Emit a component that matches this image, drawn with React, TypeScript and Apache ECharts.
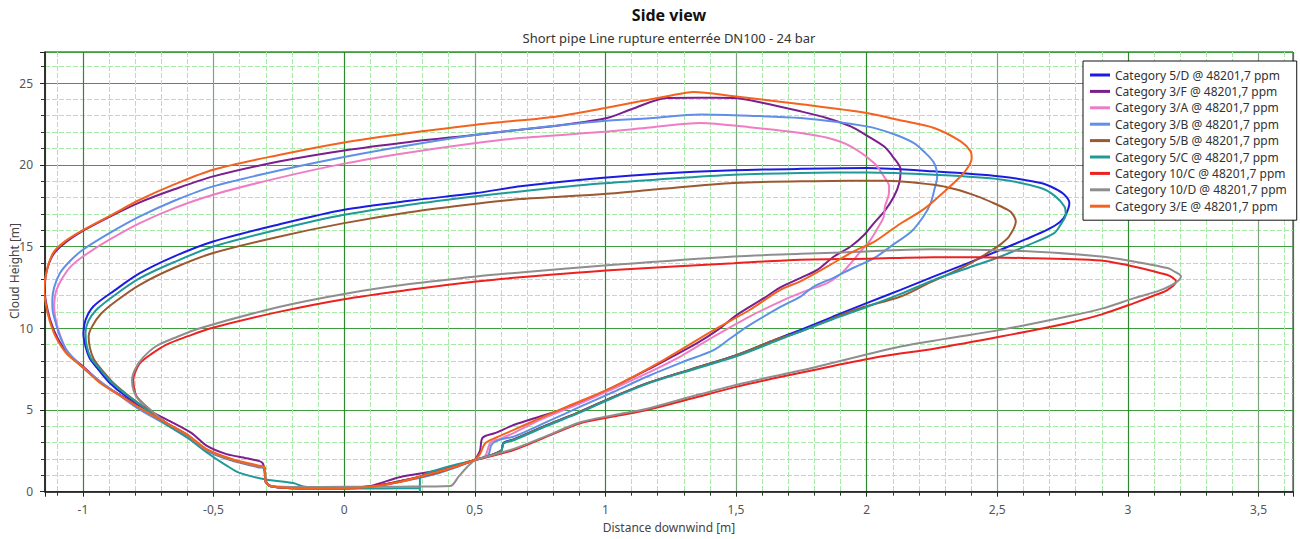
import { useEffect, useRef } from "react";
import * as echarts from "echarts";

const xMin = -1.145;
const xMax = 3.632;
const yMin = 0;
const yMax = 26.9;

const titleText = "Side view";
const subtitleText = "Short pipe Line rupture enterrée DN100 - 24 bar";
const xAxisName = "Distance downwind [m]";
const yAxisName = "Cloud Height [m]";

const seriesNames = [
  "Category 5/D @ 48201,7 ppm",
  "Category 3/F @ 48201,7 ppm",
  "Category 3/A @ 48201,7 ppm",
  "Category 3/B @ 48201,7 ppm",
  "Category 5/B @ 48201,7 ppm",
  "Category 5/C @ 48201,7 ppm",
  "Category 10/C @ 48201,7 ppm",
  "Category 10/D @ 48201,7 ppm",
  "Category 3/E @ 48201,7 ppm",
];

const seriesColors = [
  "#1c1ce0",
  "#7b1f8e",
  "#f07cc4",
  "#5f8fe6",
  "#9c5830",
  "#1f9a98",
  "#ee2020",
  "#8e8e8e",
  "#f4621e",
];

const cat5D: number[][] = [
  [0.5, 1.94], [0.6, 2.5], [0.61, 3.0], [0.649, 3.2], [0.78, 4.1], [0.904, 4.9], [1.03, 5.8],
  [1.16, 6.64], [1.33, 7.5], [1.504, 8.37], [1.65, 9.3], [1.747, 9.9], [1.87, 10.7], [2.0, 11.54],
  [2.13, 12.35], [2.258, 13.17], [2.39, 14.0], [2.513, 14.8], [2.61, 15.45], [2.692, 16.03],
  [2.74, 16.5], [2.762, 16.94], [2.776, 17.66], [2.757, 18.17], [2.72, 18.55], [2.667, 18.88],
  [2.513, 19.29], [2.258, 19.6], [2.0, 19.8], [1.747, 19.75], [1.492, 19.66], [1.2, 19.45],
  [0.981, 19.19], [0.674, 18.68], [0.506, 18.27], [0.25, 17.8], [0, 17.25], [-0.25, 16.35],
  [-0.501, 15.31], [-0.65, 14.4], [-0.782, 13.37], [-0.88, 12.3], [-0.96, 11.33], [-0.99, 10.5],
  [-0.998, 9.7], [-0.99, 8.9], [-0.975, 8.2], [-0.947, 7.6], [-0.9, 6.7], [-0.84, 5.9],
  [-0.77, 5.2], [-0.68, 4.2], [-0.6, 3.45], [-0.526, 2.55], [-0.43, 1.95], [-0.33, 1.55],
  [-0.305, 1.45], [-0.3, 0.6], [-0.28, 0.33], [-0.17, 0.2], [0, 0.2], [0.1, 0.3], [0.215, 0.65],
  [0.342, 1.1], [0.42, 1.5], [0.5, 1.94],
];

const cat3F: number[][] = [
  [0.5, 1.94], [0.52, 2.5], [0.53, 3.3], [0.58, 3.6], [0.649, 4.08], [0.75, 4.6], [0.83, 5.0],
  [0.9, 5.4], [1.03, 6.4], [1.16, 7.45], [1.26, 8.3], [1.351, 9.09], [1.43, 9.9], [1.504, 10.82],
  [1.607, 11.84], [1.67, 12.5], [1.75, 13.1], [1.811, 13.57], [1.875, 14.39], [1.939, 15.0],
  [1.99, 15.7], [2.028, 16.43], [2.07, 17.2], [2.105, 18.07], [2.125, 18.9], [2.13, 19.7],
  [2.1, 20.5], [2.066, 21.13], [2.0, 21.8], [1.939, 22.35], [1.85, 22.85], [1.747, 23.27],
  [1.6, 23.8], [1.492, 24.09], [1.35, 24.1], [1.236, 24.09], [1.1, 23.4], [1.006, 22.86],
  [0.815, 22.39], [0.674, 22.15], [0.506, 21.84], [0.25, 21.4], [0, 20.88], [-0.25, 20.2],
  [-0.501, 19.29], [-0.65, 18.5], [-0.782, 17.7], [-0.9, 16.8], [-1.0, 15.95], [-1.07, 15.2],
  [-1.114, 14.5], [-1.14, 13.4], [-1.146, 12.3], [-1.14, 11.5], [-1.125, 10.5], [-1.1, 9.5],
  [-1.06, 8.5], [-0.995, 7.6], [-0.925, 6.6], [-0.855, 5.9], [-0.765, 5.1], [-0.665, 4.3],
  [-0.585, 3.6], [-0.525, 2.8], [-0.45, 2.3], [-0.36, 2.0], [-0.312, 1.75], [-0.3, 0.7],
  [-0.28, 0.35], [-0.17, 0.22], [0, 0.25], [0.1, 0.35], [0.215, 0.9], [0.342, 1.25],
  [0.43, 1.6], [0.5, 1.94],
];

const cat3A: number[][] = [
  [0.5, 1.94], [0.54, 2.2], [0.56, 3.0], [0.6, 3.25], [0.65, 3.6], [0.75, 4.4], [0.904, 5.4],
  [1.03, 6.3], [1.16, 7.25], [1.29, 8.3], [1.416, 9.5], [1.55, 10.7], [1.684, 11.74],
  [1.77, 12.3], [1.849, 12.76], [1.9, 13.3], [1.935, 13.9], [1.977, 14.7], [2.015, 15.41],
  [2.045, 16.2], [2.066, 16.84], [2.07, 17.45], [2.085, 18.2], [2.086, 18.68], [2.066, 19.29],
  [2.028, 20.11], [1.939, 21.13], [1.85, 21.65], [1.747, 21.95], [1.55, 22.3], [1.364, 22.56],
  [1.17, 22.28], [0.981, 22.0], [0.674, 21.64], [0.506, 21.33], [0.25, 20.75], [0, 20.07],
  [-0.25, 19.2], [-0.501, 18.17], [-0.65, 17.35], [-0.782, 16.43], [-0.9, 15.4], [-1.0, 14.39],
  [-1.045, 13.8], [-1.075, 13.17], [-1.1, 12.4], [-1.107, 11.94], [-1.11, 11.3], [-1.105, 10.6],
  [-1.09, 9.7], [-1.06, 8.6], [-1.0, 7.6], [-0.93, 6.7], [-0.86, 5.9], [-0.78, 5.05],
  [-0.68, 4.15], [-0.6, 3.45], [-0.526, 2.55], [-0.43, 1.95], [-0.33, 1.55], [-0.305, 1.45],
  [-0.3, 0.6], [-0.28, 0.33], [-0.17, 0.2], [0, 0.2], [0.1, 0.28], [0.215, 0.6], [0.342, 1.1],
  [0.42, 1.5], [0.5, 1.94],
];

const cat3B: number[][] = [
  [0.5, 1.94], [0.55, 2.2], [0.565, 2.9], [0.6, 3.2], [0.649, 3.37], [0.78, 4.3], [0.904, 5.2],
  [1.03, 6.1], [1.16, 7.05], [1.29, 7.9], [1.416, 8.68], [1.48, 9.4], [1.543, 10.1], [1.67, 11.3],
  [1.747, 11.94], [1.798, 12.55], [1.875, 13.1], [1.95, 13.7], [2.03, 14.3], [2.1, 15.1],
  [2.17, 15.9], [2.22, 16.9], [2.245, 17.66], [2.258, 18.4], [2.27, 19.29], [2.258, 20.11],
  [2.22, 20.8], [2.181, 21.33], [2.1, 21.9], [2.0, 22.35], [1.747, 22.86], [1.55, 23.0],
  [1.364, 23.07], [1.17, 22.85], [0.981, 22.66], [0.674, 22.15], [0.506, 21.84], [0.25, 21.2],
  [0, 20.48], [-0.25, 19.65], [-0.501, 18.68], [-0.65, 17.8], [-0.782, 16.84], [-0.9, 15.8],
  [-1.0, 14.8], [-1.05, 14.1], [-1.088, 13.37], [-1.11, 12.5], [-1.117, 11.7], [-1.115, 11.0],
  [-1.105, 10.4], [-1.09, 9.6], [-1.06, 8.6], [-1.0, 7.6], [-0.93, 6.7], [-0.86, 5.9],
  [-0.78, 5.0], [-0.68, 4.1], [-0.6, 3.4], [-0.526, 2.5], [-0.43, 1.9], [-0.33, 1.5],
  [-0.305, 1.4], [-0.3, 0.6], [-0.28, 0.33], [-0.17, 0.2], [0, 0.2], [0.1, 0.28], [0.215, 0.6],
  [0.342, 1.05], [0.42, 1.45], [0.5, 1.94],
];

const cat5B: number[][] = [
  [0.5, 1.94], [0.6, 2.5], [0.61, 2.95], [0.649, 3.2], [0.78, 4.1], [0.904, 4.9], [1.03, 5.8],
  [1.16, 6.64], [1.33, 7.5], [1.504, 8.37], [1.65, 9.3], [1.747, 9.8], [1.95, 11.1],
  [2.13, 11.94], [2.23, 12.7], [2.322, 13.37], [2.4, 14.0], [2.462, 14.6], [2.51, 15.1],
  [2.545, 15.61], [2.571, 16.53], [2.558, 17.0], [2.539, 17.25], [2.48, 17.7], [2.424, 18.07],
  [2.34, 18.5], [2.258, 18.78], [2.066, 19.03], [1.8, 19.0], [1.492, 18.88], [1.2, 18.5],
  [0.981, 18.2], [0.674, 17.9], [0.506, 17.62], [0.25, 17.1], [0, 16.43], [-0.25, 15.6],
  [-0.501, 14.6], [-0.65, 13.7], [-0.782, 12.66], [-0.87, 11.7], [-0.93, 10.9], [-0.965, 10.1],
  [-0.978, 9.5], [-0.973, 8.8], [-0.958, 8.1], [-0.93, 7.5], [-0.88, 6.6], [-0.82, 5.8],
  [-0.76, 5.1], [-0.68, 4.2], [-0.6, 3.45], [-0.526, 2.55], [-0.43, 1.95], [-0.33, 1.55],
  [-0.305, 1.45], [-0.3, 0.6], [-0.28, 0.33], [-0.17, 0.2], [0, 0.2], [0.1, 0.3], [0.215, 0.65],
  [0.342, 1.1], [0.42, 1.5], [0.5, 1.94],
];

const cat5C: number[][] = [
  [0.29, 0.0], [0.29, 0.8], [0.39, 1.5], [0.5, 1.94], [0.6, 2.45], [0.61, 2.95], [0.649, 3.15],
  [0.78, 4.05], [0.904, 4.85], [1.03, 5.75], [1.16, 6.6], [1.33, 7.45], [1.504, 8.3],
  [1.65, 9.2], [1.747, 9.8], [1.87, 10.55], [2.0, 11.3], [2.13, 12.1], [2.258, 12.96],
  [2.39, 13.7], [2.513, 14.39], [2.62, 15.1], [2.718, 15.82], [2.745, 16.4], [2.762, 16.94],
  [2.757, 17.45], [2.72, 18.1], [2.667, 18.58], [2.513, 19.1], [2.258, 19.39], [2.0, 19.53],
  [1.747, 19.5], [1.492, 19.39], [1.2, 19.1], [0.981, 18.85], [0.674, 18.37], [0.506, 18.07],
  [0.25, 17.55], [0, 16.94], [-0.25, 16.05], [-0.501, 15.0], [-0.65, 14.05], [-0.782, 13.06],
  [-0.88, 12.0], [-0.95, 11.1], [-0.98, 10.4], [-0.99, 9.7], [-0.985, 8.9], [-0.97, 8.2],
  [-0.94, 7.6], [-0.89, 6.7], [-0.83, 5.9], [-0.77, 5.2], [-0.68, 4.1], [-0.6, 3.3],
  [-0.526, 2.4], [-0.45, 1.6], [-0.4, 1.15], [-0.3, 0.75], [-0.195, 0.53], [-0.15, 0.3],
  [0, 0.2], [0.15, 0.2], [0.29, 0.22],
];

const cat10C: number[][] = [
  [0.5, 1.94], [0.649, 2.55], [0.78, 3.4], [0.904, 4.19], [1.03, 4.6], [1.16, 5.0], [1.33, 5.7],
  [1.504, 6.43], [1.65, 6.95], [1.798, 7.45], [2.054, 8.27], [2.258, 8.75], [2.513, 9.49],
  [2.768, 10.31], [2.9, 10.85], [3.024, 11.54], [3.1, 12.0], [3.152, 12.35], [3.184, 12.86],
  [3.16, 13.2], [3.126, 13.37], [3.0, 13.85], [2.897, 14.15], [2.6, 14.3], [2.258, 14.35],
  [2.0, 14.25], [1.747, 14.19], [1.492, 13.98], [1.032, 13.57], [0.674, 13.12], [0.506, 12.86],
  [0.25, 12.35], [0, 11.78], [-0.25, 11.0], [-0.51, 10.0], [-0.6, 9.5], [-0.68, 9.0],
  [-0.74, 8.4], [-0.782, 7.86], [-0.8, 7.3], [-0.807, 6.84], [-0.802, 6.2], [-0.794, 5.82],
  [-0.756, 5.2], [-0.68, 4.2], [-0.6, 3.45], [-0.526, 2.55], [-0.43, 1.95], [-0.33, 1.55],
  [-0.305, 1.45], [-0.3, 0.6], [-0.28, 0.33], [-0.17, 0.22], [0, 0.25], [0.1, 0.32],
  [0.215, 0.62], [0.342, 1.15], [0.42, 1.5], [0.5, 1.94],
];

const cat10D: number[][] = [
  [0.5, 1.94], [0.649, 2.62], [0.78, 3.45], [0.904, 4.25], [1.03, 4.68], [1.16, 5.08],
  [1.33, 5.82], [1.504, 6.55], [1.65, 7.08], [1.798, 7.6], [2.13, 8.88], [2.3, 9.35],
  [2.513, 9.9], [2.768, 10.72], [2.9, 11.2], [3.024, 11.84], [3.12, 12.3], [3.18, 12.76],
  [3.203, 13.17], [3.18, 13.45], [3.152, 13.68], [3.0, 14.15], [2.897, 14.39], [2.6, 14.72],
  [2.245, 14.84], [2.0, 14.7], [1.747, 14.55], [1.492, 14.39], [1.032, 13.88], [0.674, 13.41],
  [0.506, 13.17], [0.25, 12.7], [0, 12.1], [-0.25, 11.3], [-0.552, 10.0], [-0.65, 9.4],
  [-0.72, 8.9], [-0.77, 8.2], [-0.8, 7.5], [-0.812, 6.8], [-0.806, 6.2], [-0.79, 5.7],
  [-0.756, 5.2], [-0.68, 4.2], [-0.6, 3.45], [-0.526, 2.55], [-0.43, 1.95], [-0.33, 1.55],
  [-0.305, 1.45], [-0.3, 0.6], [-0.28, 0.33], [-0.17, 0.28], [0, 0.3], [0.215, 0.31],
  [0.406, 0.35], [0.438, 0.92], [0.47, 1.5], [0.5, 1.94],
];

const cat3E: number[][] = [
  [0.5, 1.94], [0.52, 2.3], [0.54, 2.96], [0.58, 3.3], [0.649, 3.78], [0.75, 4.5], [0.853, 5.2],
  [1.032, 6.43], [1.224, 8.07], [1.416, 9.9], [1.55, 11.1], [1.67, 12.35], [1.75, 12.9],
  [1.85, 13.78], [1.95, 14.7], [2.03, 15.3], [2.12, 16.3], [2.22, 17.3], [2.3, 18.4],
  [2.36, 19.3], [2.39, 19.9], [2.402, 20.4], [2.398, 20.82], [2.36, 21.43], [2.258, 22.25],
  [2.12, 22.75], [2.0, 23.17], [1.75, 23.7], [1.492, 24.19], [1.338, 24.46], [1.236, 24.19],
  [1.0, 23.48], [0.815, 22.96], [0.598, 22.6], [0.506, 22.45], [0.25, 21.95], [0, 21.37],
  [-0.25, 20.6], [-0.501, 19.7], [-0.65, 18.8], [-0.782, 17.86], [-0.9, 16.85], [-1.0, 16.0],
  [-1.07, 15.3], [-1.114, 14.6], [-1.14, 13.4], [-1.148, 12.3], [-1.142, 11.5], [-1.128, 10.5],
  [-1.105, 9.5], [-1.065, 8.5], [-1.0, 7.6], [-0.93, 6.6], [-0.86, 5.9], [-0.78, 5.1],
  [-0.68, 4.2], [-0.6, 3.5], [-0.526, 2.6], [-0.43, 2.0], [-0.33, 1.6], [-0.305, 1.5],
  [-0.3, 0.6], [-0.28, 0.35], [-0.17, 0.22], [0, 0.22], [0.1, 0.3], [0.215, 0.6],
  [0.342, 1.15], [0.42, 1.5], [0.5, 1.94],
];

const seriesData = [cat5D, cat3F, cat3A, cat3B, cat5B, cat5C, cat10C, cat10D, cat3E];

const fmt = (v: number) => String(+v.toFixed(2)).replace(".", ",");

export default function App() {
  const ref = useRef<HTMLDivElement>(null);

  useEffect(() => {
    document.body.style.margin = "0";
    const chart = echarts.init(ref.current!, null, { renderer: "svg" });
    const font = "'Noto Sans', 'Open Sans', sans-serif";
    chart.setOption({
      animation: false,
      backgroundColor: "#ffffff",
      textStyle: { fontFamily: font },
      graphic: [
        {
          type: "text",
          x: 669,
          y: 15,
          style: {
            text: titleText,
            fontSize: 16,
            fontWeight: "bold",
            fontFamily: font,
            fill: "#111",
            align: "center",
            verticalAlign: "middle",
          },
        },
        {
          type: "text",
          x: 669,
          y: 38,
          style: {
            text: subtitleText,
            fontSize: 13,
            fontFamily: font,
            fill: "#333",
            align: "center",
            verticalAlign: "middle",
          },
        },
        {
          type: "text",
          x: 14,
          y: 271,
          rotation: Math.PI / 2,
          style: {
            text: yAxisName,
            fontSize: 12,
            fontFamily: font,
            fill: "#444",
            align: "center",
            verticalAlign: "middle",
          },
        },
      ],
      legend: {
        orient: "vertical",
        left: 1083,
        top: 61,
        backgroundColor: "#ffffff",
        borderColor: "#111",
        borderWidth: 1,
        borderRadius: 0,
        padding: [7, 10, 7, 7],
        itemGap: 2.4,
        itemWidth: 20,
        itemHeight: 3,
        icon: "rect",
        textStyle: { fontSize: 12, lineHeight: 14, color: "#333", fontFamily: font },
        data: seriesNames,
      },
      grid: {
        left: 45,
        top: 52,
        width: 1248,
        height: 439.7,
        show: true,
        borderColor: "#222",
        borderWidth: 1,
        backgroundColor: "transparent",
        outerBoundsMode: "none",
        containLabel: false,
      },
      xAxis: {
        type: "value",
        min: xMin,
        max: xMax,
        minInterval: 0.5,
        maxInterval: 0.5,
        name: xAxisName,
        nameLocation: "middle",
        nameGap: 30,
        nameMoveOverlap: false,
        nameTextStyle: { fontSize: 12, color: "#444", fontFamily: font },
        axisLine: { show: true, onZero: false, lineStyle: { color: "#111", width: 1.5 } },
        axisTick: { show: true, length: 5, lineStyle: { color: "#222" } },
        minorTick: { show: true, splitNumber: 5, length: 4, lineStyle: { color: "#333" } },
        axisLabel: {
          fontSize: 12,
          color: "#555",
          margin: 12,
          showMinLabel: false,
          showMaxLabel: false,
          formatter: fmt,
        },
        splitLine: {
          show: true,
          lineStyle: { color: ["#7ea67e", "#2f8a2f"], width: 1.2 },
        },
        minorSplitLine: {
          show: true,
          lineStyle: { color: "#a8eba8", type: [5, 2], width: 1 },
        },
      },
      yAxis: {
        type: "value",
        min: yMin,
        max: yMax,
        minInterval: 5,
        maxInterval: 5,
        axisLine: { show: true, onZero: false, lineStyle: { color: "#111", width: 1.5 } },
        axisTick: { show: true, length: 5, lineStyle: { color: "#222" } },
        minorTick: { show: true, splitNumber: 5, length: 4, lineStyle: { color: "#333" } },
        axisLabel: {
          fontSize: 12,
          color: "#555",
          margin: 12,
          showMaxLabel: false,
          formatter: fmt,
        },
        splitLine: {
          show: true,
          lineStyle: { color: "#3f9c3f", width: 1.2 },
        },
        minorSplitLine: {
          show: true,
          lineStyle: { color: "#a8eba8", type: [5, 2], width: 1 },
        },
      },
      series: seriesNames.map((name, i) => ({
        name,
        type: "line",
        data: seriesData[i],
        showSymbol: false,
        symbol: "none",
        smooth: 0.3,
        color: seriesColors[i],
        lineStyle: { color: seriesColors[i], width: 2 },
        emphasis: { disabled: true },
        z: 3 + i * 0.01,
      })),
    });
    return () => chart.dispose();
  }, []);

  return <div ref={ref} style={{ width: 1300, height: 539 }} />;
}
